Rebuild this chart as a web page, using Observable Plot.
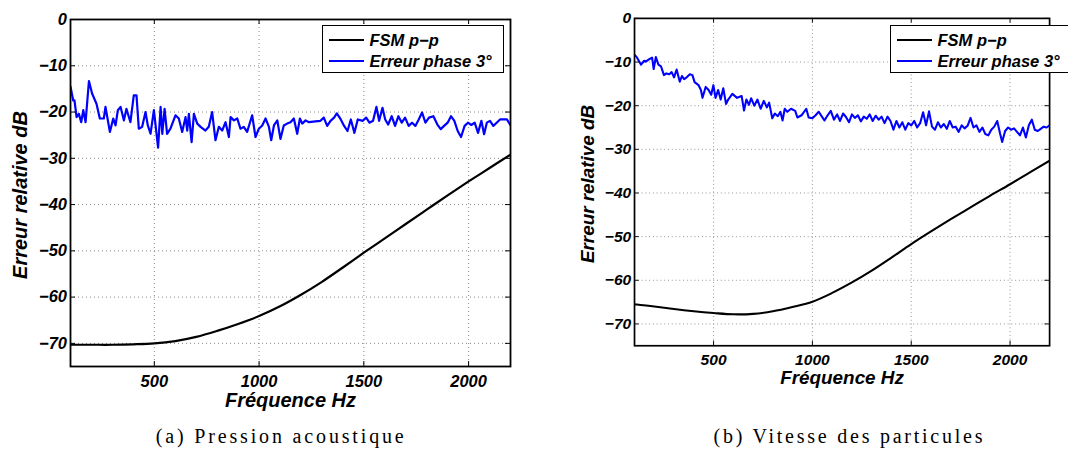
<!DOCTYPE html>
<html>
<head>
<meta charset="utf-8">
<script src="https://cdn.jsdelivr.net/npm/d3@7"></script>
<script src="https://cdn.jsdelivr.net/npm/@observablehq/plot@0.6"></script>
<style>
  html, body { margin: 0; padding: 0; background: white; }
  #wrap { position: relative; width: 1068px; height: 449px; overflow: hidden; background: white; }
  .panel { position: absolute; top: 0; }
  .legend { position: absolute; box-sizing: border-box; border: 1.5px solid black; background: white;
            font-family: "Liberation Sans", Arial, sans-serif; font-weight: bold; font-style: italic; font-size: 16.5px; }
  .legend .row { position: absolute; left: 0; height: 20px; line-height: 20px; white-space: nowrap; }
  .legend .sample { position: absolute; left: 6px; width: 35px; top: 9px; border-top: 2px solid black; }
  .legend .lab { position: absolute; left: 47px; top: 0; }
  #captions { position: absolute; left: 0; top: 0; }
</style>
</head>
<body>
<div id="wrap">
  <div id="pa" class="panel" style="left:0px"></div>
  <div id="pb" class="panel" style="left:568px"></div>
  <svg id="captions" width="1068" height="449"></svg>
</div>
<script>
// ---------- data ----------
const xTicks = [500, 1000, 1500, 2000];
const yTicks = [0, -10, -20, -30, -40, -50, -60, -70];
const seriesNames = ["FSM p\u2212p", "Erreur phase 3\u00b0"];
const captionTexts = ["(a) Pression acoustique", "(b) Vitesse des particules"];
const xLabel = "Fr\u00e9quence Hz";
const yLabel = "Erreur relative dB";

// Panel (a) : Pression acoustique
const freqA_fsm = [100, 200, 300, 400, 500, 600, 700, 800, 900, 1000, 1100, 1200, 1300, 1400, 1500, 1600, 1700, 1800, 1900, 2000, 2100, 2200];
const valA_fsm  = [-70.3, -70.3, -70.3, -70.2, -70.0, -69.5, -68.6, -67.3, -65.8, -64.1, -62.0, -59.5, -56.7, -53.6, -50.4, -47.3, -44.2, -41.1, -38.0, -35.0, -32.1, -29.2];

const freqA_err = [100,113,119,129,140,151,161,172,188,203,224,240,259,267,288,304,315,326,339,355,367,386,402,415,426,442,458,469,482,498,518,530,538,549,561,577,601,617,633,649,657,665,678,689,705,721,744,760,776,792,808,824,840,856,864,880,896,911,927,943,967,983,999,1015,1031,1047,1058,1071,1087,1102,1118,1134,1150,1166,1182,1195,1206,1222,1238,1269,1293,1309,1325,1341,1358,1371,1390,1406,1422,1438,1455,1471,1495,1511,1527,1544,1560,1573,1589,1602,1616,1633,1649,1665,1681,1697,1714,1730,1746,1762,1778,1794,1811,1832,1851,1867,1883,1900,1916,1932,1948,1964,1981,1997,2013,2029,2045,2061,2074,2087,2102,2118,2134,2150,2167,2183,2199];
const valA_err  = [-14.5,-17.5,-17.5,-21.1,-20.4,-22.2,-19.6,-22.2,-13.3,-16.0,-18.2,-21.4,-21.4,-18.9,-24.3,-21.4,-22.9,-19.6,-18.9,-21.8,-19.3,-22.2,-16.4,-16.4,-23.6,-23.2,-20.0,-22.9,-24.7,-19.6,-27.7,-18.9,-24.7,-19.3,-24.7,-23.6,-20.7,-21.4,-24.3,-21.1,-24.0,-20.4,-26.5,-20.4,-22.5,-23.2,-24.0,-23.2,-20.0,-26.1,-23.2,-24.0,-22.2,-25.4,-21.1,-21.8,-21.4,-23.6,-23.2,-24.3,-20.7,-25.4,-23.6,-22.9,-21.4,-23.2,-26.1,-22.9,-21.8,-25.8,-22.9,-22.5,-22.2,-21.4,-24.7,-21.4,-22.5,-21.8,-22.2,-22.0,-21.9,-21.2,-23.0,-21.9,-21.2,-20.3,-21.6,-23.0,-24.1,-21.6,-24.5,-21.6,-21.9,-21.2,-22.3,-21.9,-18.9,-21.9,-19.1,-21.6,-22.7,-20.9,-23.0,-20.9,-22.3,-21.2,-23.0,-22.3,-23.0,-21.6,-20.1,-22.3,-21.2,-20.9,-22.7,-23.7,-23.0,-22.3,-20.9,-21.9,-24.1,-25.4,-23.0,-22.3,-22.8,-22.3,-24.5,-21.9,-24.8,-22.3,-21.9,-23.0,-22.3,-21.6,-21.6,-21.6,-22.8];

// Panel (b) : Vitesse des particules
const freqB_fsm = [100, 200, 300, 400, 500, 600, 700, 800, 900, 1000, 1100, 1200, 1300, 1400, 1500, 1600, 1700, 1800, 1900, 2000, 2100, 2200];
const valB_fsm  = [-65.5, -66.0, -66.6, -67.1, -67.5, -67.8, -67.7, -67.1, -66.1, -64.9, -62.9, -60.5, -57.8, -54.8, -51.7, -48.8, -46.0, -43.3, -40.6, -38.0, -35.3, -32.6];

const freqB_err = [100,113,133,149,157,173,189,197,208,221,234,249,261,276,288,300,313,329,340,351,364,380,393,404,424,436,444,460,475,488,499,510,523,536,549,563,574,595,619,642,654,666,679,690,706,722,738,754,770,781,797,810,825,838,849,860,873,892,913,924,945,969,981,1000,1016,1032,1048,1061,1077,1093,1109,1125,1140,1155,1170,1185,1200,1215,1230,1245,1260,1275,1290,1305,1320,1335,1350,1365,1380,1395,1410,1425,1440,1455,1470,1485,1500,1515,1530,1545,1560,1575,1590,1605,1620,1635,1650,1665,1680,1695,1710,1725,1740,1755,1770,1785,1800,1815,1830,1845,1860,1875,1890,1905,1920,1935,1950,1960,1975,1990,2005,2020,2035,2050,2065,2080,2095,2110,2125,2140,2155,2170,2185,2200];
const valB_err  = [-8.3,-9.0,-10.6,-9.7,-9.9,-9.4,-9.0,-11.6,-8.85,-10.6,-11.0,-13.0,-12.6,-12.8,-12.3,-13.5,-11.7,-14.5,-13.2,-13.9,-13.5,-12.8,-13.0,-14.6,-15.3,-16.4,-18.2,-15.7,-16.4,-17.5,-15.3,-18.2,-16.4,-18.6,-16.0,-19.6,-18.6,-17.3,-18.2,-17.8,-21.1,-18.6,-19.8,-18.3,-20.0,-18.6,-20.7,-18.9,-20.4,-19.3,-22.9,-21.8,-22.4,-21.4,-23.4,-20.7,-21.4,-20.7,-21.2,-22.7,-22.2,-20.7,-22.7,-22.9,-22.2,-21.4,-22.5,-23.4,-22.2,-21.2,-23.2,-22.0,-23.5,-21.8,-22.6,-23.8,-22.0,-22.8,-22.2,-23.6,-22.5,-23.0,-22.0,-23.5,-22.3,-23.2,-22.5,-24.0,-22.5,-23.5,-25.5,-23.5,-25.0,-23.8,-25.5,-24.0,-24.5,-23.5,-25.0,-24.0,-21.5,-24.5,-21.3,-24.8,-25.5,-23.8,-25.0,-24.2,-25.3,-23.5,-25.0,-24.8,-26.0,-24.5,-25.2,-24.6,-22.8,-25.0,-24.5,-26.0,-25.0,-26.5,-26.8,-25.5,-24.8,-23.5,-26.5,-28.3,-25.8,-25.0,-25.5,-25.2,-26.0,-26.8,-25.0,-27.3,-24.5,-23.2,-25.5,-25.8,-25.3,-24.8,-25.0,-24.5];

const colors = ["#000000", "#0000ff"];

// ---------- drawing ----------
const fmt = d => d < 0 ? "\u2212" + (-d) : String(d);

function zip(f, v) { return f.map((x, i) => ({x, y: v[i]})); }

function panel(fsmF, fsmV, errF, errV) {
  const W = 530, H = 420, mL = 70, mR = 20, mT = 19, mB = 54;
  const fw = W - mL - mR, fh = H - mT - mB, tk = 5;
  const gridStyle = {stroke: "#8a8a8a", strokeOpacity: 1, strokeWidth: 1, strokeDasharray: "1,3"};
  const tickStyle = {stroke: "black", strokeWidth: 1};
  const svg = Plot.plot({
    width: W, height: H,
    marginLeft: mL, marginRight: mR, marginTop: mT, marginBottom: mB,
    style: {fontFamily: "'Liberation Sans', Arial, sans-serif", background: "white", overflow: "visible", color: "black"},
    x: {domain: [100, 2200], label: null},
    y: {domain: [-75, 0], label: null},
    marks: [
      Plot.gridX(xTicks, gridStyle),
      Plot.gridY(yTicks, gridStyle),
      Plot.line(zip(fsmF, fsmV), {x: "x", y: "y", stroke: colors[0], strokeWidth: 2.2, curve: "catmull-rom", clip: true}),
      Plot.line(zip(errF, errV), {x: "x", y: "y", stroke: colors[1], strokeWidth: 2.2, clip: true}),
      // inward ticks on all four sides
      Plot.tickX(xTicks, {x: d => d, insetTop: fh - tk, ...tickStyle}),
      Plot.tickX(xTicks, {x: d => d, insetBottom: fh - tk, ...tickStyle}),
      Plot.tickY(yTicks, {y: d => d, insetRight: fw - tk, ...tickStyle}),
      Plot.tickY(yTicks, {y: d => d, insetLeft: fw - tk, ...tickStyle}),
      Plot.axisX(xTicks, {anchor: "bottom", tickSize: 0, tickPadding: 9, tickFormat: fmt, label: null}),
      Plot.axisY(yTicks, {anchor: "left", tickSize: 0, tickPadding: 3.5, tickFormat: fmt, label: null}),
      Plot.frame({stroke: "black", strokeWidth: 1.8}),
      Plot.text([xLabel], {frameAnchor: "bottom", lineAnchor: "middle", textAnchor: "middle", dy: 34.5}),
      Plot.text([yLabel], {frameAnchor: "left", lineAnchor: "middle", textAnchor: "middle", rotate: -90, dx: -49.5, dy: 2})
    ]
  });
  // bold-italic fonts on every text of the panel (ticks, axis titles)
  d3.select(svg).selectAll("text").each(function() {
    const t = this.textContent;
    const big = (t === xLabel || t === yLabel);
    d3.select(this)
      .style("font-family", "'Liberation Sans', Arial, sans-serif")
      .style("font-size", big ? "20px" : "16.5px")
      .style("font-weight", "bold")
      .style("font-style", "italic")
      .style("fill", "black");
  });
  return svg;
}

function legend() {
  const lg = document.createElement("div");
  lg.className = "legend";
  lg.style.left = "321.5px"; lg.style.top = "24.5px";
  lg.style.width = "182.5px"; lg.style.height = "48.5px";
  const tops = [4.5, 25.5];
  seriesNames.forEach((name, i) => {
    const row = document.createElement("div");
    row.className = "row";
    row.style.top = tops[i] + "px";
    const s = document.createElement("span");
    s.className = "sample"; s.style.borderTopColor = colors[i];
    const t = document.createElement("span");
    t.className = "lab"; t.textContent = name;
    row.appendChild(s); row.appendChild(t);
    lg.appendChild(row);
  });
  return lg;
}

const pa = document.getElementById("pa");
pa.appendChild(panel(freqA_fsm, valA_fsm, freqA_err, valA_err));
pa.appendChild(legend());
const pb = document.getElementById("pb");
pb.appendChild(panel(freqB_fsm, valB_fsm, freqB_err, valB_err));
pb.appendChild(legend());

// captions
const cap = d3.select("#captions");
const capCenters = [279.7, 848];
const capWidths = [248, 269];
captionTexts.forEach((txt, i) => {
  cap.append("text")
    .attr("x", capCenters[i] - capWidths[i] / 2)
    .attr("y", 442.5)
    .attr("textLength", capWidths[i])
    .attr("lengthAdjust", "spacing")
    .attr("font-family", "'Liberation Serif', 'DejaVu Serif', serif")
    .attr("font-size", 20)
    .attr("fill", "black")
    .text(txt);
});
</script>
</body>
</html>
